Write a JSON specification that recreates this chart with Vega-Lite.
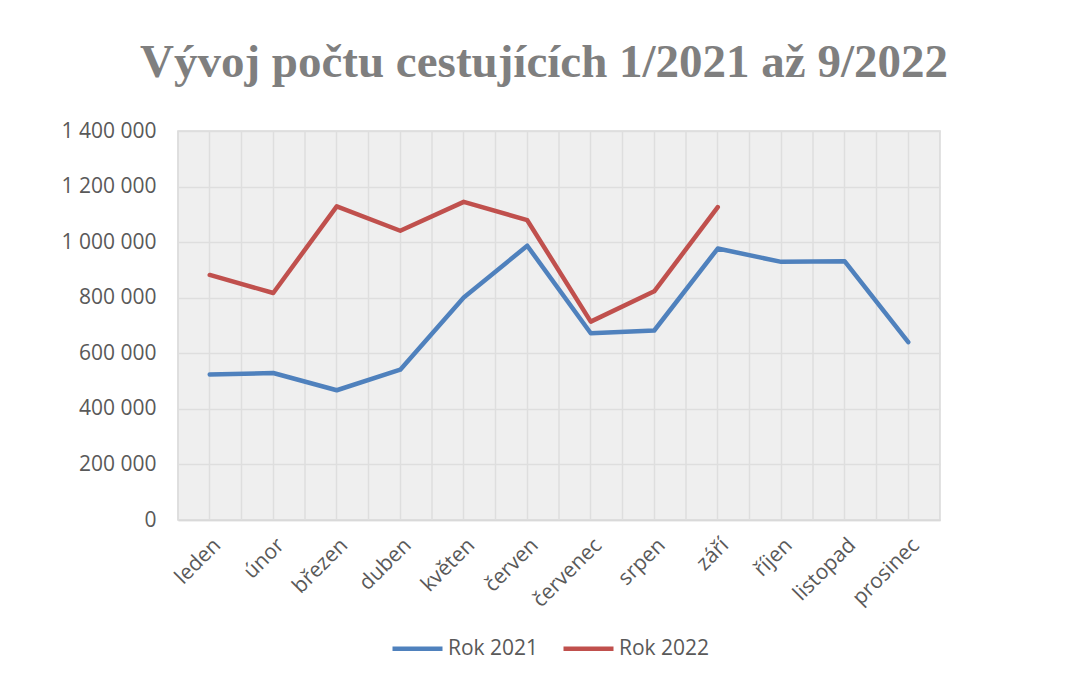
{
  "$schema": "https://vega.github.io/schema/vega-lite/v6.json",
  "autosize": "none",
  "width": 762,
  "height": 389,
  "padding": {"left": 178, "top": 131, "right": 133, "bottom": 158},
  "background": "white",
  "title": {
    "text": "Vývoj počtu cestujících 1/2021 až 9/2022",
    "font": "Liberation Serif",
    "fontSize": 47,
    "fontWeight": "bold",
    "color": "#7f7f7f",
    "anchor": "middle",
    "dx": -15,
    "offset": 33
  },
  "config": {
    "view": {"stroke": "#d9d9d9", "strokeWidth": 1.5, "fill": "#efefef"},
    "axis": {
      "labelFont": "Open Sans",
      "labelFontSize": 21,
      "labelColor": "#595959",
      "gridColor": "#dedede",
      "gridWidth": 1.5,
      "ticks": false,
      "title": null
    }
  },
  "data": {
    "values": [
      {"month": "leden", "series": "Rok 2021", "value": 524000},
      {"month": "únor", "series": "Rok 2021", "value": 529000},
      {"month": "březen", "series": "Rok 2021", "value": 467000},
      {"month": "duben", "series": "Rok 2021", "value": 541000},
      {"month": "květen", "series": "Rok 2021", "value": 801000},
      {"month": "červen", "series": "Rok 2021", "value": 987000},
      {"month": "červenec", "series": "Rok 2021", "value": 672000},
      {"month": "srpen", "series": "Rok 2021", "value": 682000},
      {"month": "září", "series": "Rok 2021", "value": 977000},
      {"month": "říjen", "series": "Rok 2021", "value": 929000},
      {"month": "listopad", "series": "Rok 2021", "value": 931000},
      {"month": "prosinec", "series": "Rok 2021", "value": 640000},
      {"month": "leden", "series": "Rok 2022", "value": 882000},
      {"month": "únor", "series": "Rok 2022", "value": 817000},
      {"month": "březen", "series": "Rok 2022", "value": 1129000},
      {"month": "duben", "series": "Rok 2022", "value": 1041000},
      {"month": "květen", "series": "Rok 2022", "value": 1145000},
      {"month": "červen", "series": "Rok 2022", "value": 1079000},
      {"month": "červenec", "series": "Rok 2022", "value": 714000},
      {"month": "srpen", "series": "Rok 2022", "value": 823000},
      {"month": "září", "series": "Rok 2022", "value": 1126000}
    ]
  },
  "layer": [
    {
      "transform": [{"filter": "datum.series === 'Rok 2021'"}],
      "mark": {"type": "rule", "color": "#dedede", "strokeWidth": 1.5},
      "encoding": {
        "x": {"field": "month", "type": "nominal", "sort": null, "bandPosition": 0}
      }
    },
    {
      "mark": {"type": "line", "strokeWidth": 4.5, "strokeCap": "round", "strokeJoin": "round"},
      "encoding": {
        "x": {
          "field": "month", "type": "nominal", "sort": null,
          "scale": {"type": "band", "paddingInner": 0, "paddingOuter": 0},
          "axis": {
            "labelAngle": -45,
            "labelAlign": "right",
            "labelBaseline": "top",
            "labelPadding": 14,
            "labelDx": -5,
            "domainColor": "#d9d9d9",
            "domainWidth": 1.5,
            "grid": true
          }
        },
        "y": {
          "field": "value", "type": "quantitative",
          "scale": {"domain": [0, 1400000], "nice": false},
          "axis": {
            "values": [0, 200000, 400000, 600000, 800000, 1000000, 1200000, 1400000],
            "labelExpr": "replace(replace(format(datum.value, ','), ',', ' '), ',', ' ')",
            "labelPadding": 22,
            "domain": false
          }
        },
        "color": {
          "field": "series", "type": "nominal",
          "scale": {"domain": ["Rok 2021", "Rok 2022"], "range": ["#4f81bd", "#c0504d"]},
          "legend": {
            "title": null,
            "orient": "none",
            "direction": "horizontal",
            "legendX": 212,
            "legendY": 490,
            "symbolType": "M-1,0H1",
            "symbolSize": 2500,
            "symbolStrokeWidth": 4.5,
            "labelFont": "Open Sans",
            "labelFontSize": 21,
            "labelColor": "#595959",
            "columnPadding": 15,
            "labelOffset": 3
          }
        }
      }
    }
  ]
}
